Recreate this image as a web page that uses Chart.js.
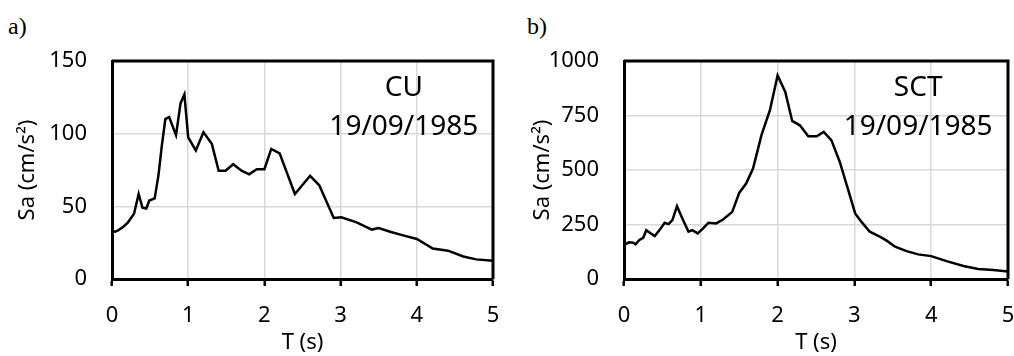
<!DOCTYPE html>
<html>
<head>
<meta charset="utf-8">
<script src="https://cdn.jsdelivr.net/npm/chart.js@4.4.1/dist/chart.umd.min.js"></script>
<style>
  body { margin: 0; background: #fff; }
  #wrap { position: relative; width: 1014px; height: 356px; }
  canvas { position: absolute; top: 0; }
  .tag { position: absolute; font-family: 'Liberation Serif', 'Times New Roman', serif; font-size: 24px; color: #000; }
</style>
</head>
<body>
<div id="wrap">
  <div class="tag" style="left:8px; top:13px;">a)</div>
  <div class="tag" style="left:527px; top:13px;">b)</div>
  <canvas id="chartA" width="507" height="356" style="left:0px;"></canvas>
  <canvas id="chartB" width="507" height="356" style="left:507px;"></canvas>
</div>
<script>
// Response spectra, 19/09/1985 - CU and SCT stations

// Panel a) CU
const tA = [0, 0.04, 0.08, 0.15, 0.21, 0.29, 0.35, 0.40, 0.45, 0.49, 0.56, 0.61, 0.65, 0.70, 0.75,
  0.84, 0.90, 0.95, 1.00, 1.10, 1.20, 1.31, 1.40, 1.49, 1.59, 1.70, 1.80, 1.90, 2.00, 2.09,
  2.20, 2.40, 2.60, 2.72, 2.91, 3.01, 3.21, 3.41, 3.50, 3.65, 3.82, 4.00, 4.21, 4.41, 4.61, 4.78, 5.00];
const saA = [33, 32.5, 33.5, 36, 39, 45, 58.5, 49, 48.5, 54, 55.5, 71.5, 90, 110, 111.5,
  99, 121, 127, 97.5, 88.5, 101, 93, 74.5, 74.5, 79, 74.5, 72, 75.5, 75.5, 89.5,
  86.5, 58.5, 71, 64.5, 42, 42.5, 39, 34, 35, 32.5, 30, 27.5, 21, 19.5, 15.5, 13.5, 12.5];

// Panel b) SCT
const tB = [0, 0.065, 0.12, 0.15, 0.20, 0.25, 0.29, 0.35, 0.40, 0.47, 0.53, 0.58, 0.63, 0.69, 0.76,
  0.84, 0.89, 0.96, 1.03, 1.10, 1.20, 1.29, 1.41, 1.50, 1.59, 1.68, 1.73, 1.79, 1.90, 2.00,
  2.10, 2.19, 2.29, 2.40, 2.51, 2.60, 2.70, 2.81, 2.92, 3.01, 3.09, 3.20, 3.33, 3.42, 3.53,
  3.68, 3.83, 4.00, 4.20, 4.42, 4.61, 4.81, 5.00];
const saB = [156, 168, 166, 159, 179, 189, 224, 209, 197, 228, 258, 252, 270, 334, 278,
  217, 224, 209, 232, 258, 255, 273, 308, 395, 438, 507, 576, 660, 774, 934,
  858, 725, 705, 655, 655, 675, 637, 537, 408, 301, 263, 217, 194, 176, 148,
  128, 113, 105, 82, 60, 46, 41, 34];

const xTicks = [0, 1, 2, 3, 4, 5];
const yTicksA = [0, 50, 100, 150];
const yTicksB = [0, 250, 500, 750, 1000];
const notesA = ['CU', '19/09/1985'];
const notesB = ['SCT', '19/09/1985'];

const FONT = "'Noto Sans', 'Open Sans', sans-serif";

// frame on top/right + station label
const framePlugin = {
  id: 'frame',
  afterDraw(chart, args, opts) {
    const a = chart.chartArea;
    const ctx = chart.ctx;
    ctx.save();
    ctx.strokeStyle = '#000';
    ctx.lineWidth = 3;
    ctx.beginPath();
    ctx.moveTo(a.left, a.top);
    ctx.lineTo(a.right, a.top);
    ctx.lineTo(a.right, a.bottom);
    ctx.stroke();
    ctx.fillStyle = '#000';
    ctx.font = '28px ' + FONT;
    ctx.textAlign = 'center';
    ctx.textBaseline = 'middle';
    const cx = a.left + (a.right - a.left) * 0.766;
    ctx.fillText(opts.lines[0], cx, a.top + 27);
    ctx.fillText(opts.lines[1], cx, a.top + 66);
    ctx.restore();
  }
};

function makeChart(id, t, sa, yTicks, notes, yAxisW, padRight, yTitlePad) {
  const pts = t.map((v, i) => ({ x: v, y: sa[i] }));
  return new Chart(document.getElementById(id), {
    type: 'line',
    data: {
      datasets: [{
        data: pts,
        borderColor: '#000',
        borderWidth: 2.5,
        pointRadius: 0,
        tension: 0,
        fill: false
      }]
    },
    options: {
      responsive: false,
      animation: false,
      layout: { padding: { top: 61, right: padRight, left: 0, bottom: 0 } },
      plugins: {
        legend: { display: false },
        tooltip: { enabled: false },
        frame: { lines: notes }
      },
      scales: {
        x: {
          type: 'linear',
          min: xTicks[0],
          max: xTicks[xTicks.length - 1],
          afterBuildTicks: s => { s.ticks = xTicks.map(v => ({ value: v })); },
          afterFit: s => { s.height = 77; s.paddingLeft = 0; s.paddingRight = 0; },
          grid: { color: '#d9d9d9', lineWidth: 1.5, tickColor: '#000', tickLength: 7, tickWidth: 2.5 },
          border: { color: '#000', width: 3 },
          ticks: { color: '#000', font: { family: FONT, size: 22 }, padding: 17, maxRotation: 0, autoSkip: false,
            callback: v => String(v) },
          title: { display: true, text: 'T (s)', color: '#000', font: { family: FONT, size: 22 }, padding: { top: 0, bottom: 0 } }
        },
        y: {
          min: yTicks[0],
          max: yTicks[yTicks.length - 1],
          afterBuildTicks: s => { s.ticks = yTicks.map(v => ({ value: v })); },
          afterFit: s => { s.width = yAxisW; s.paddingTop = 0; s.paddingBottom = 0; },
          grid: { color: '#d9d9d9', lineWidth: 1.5, drawTicks: false },
          border: { color: '#000', width: 3 },
          ticks: { color: '#000', font: { family: FONT, size: 22 }, padding: 25, callback: v => String(v) },
          title: { display: true, text: 'Sa (cm/s²)', color: '#000', font: { family: FONT, size: 22 }, padding: { top: yTitlePad, bottom: 0 } }
        }
      }
    },
    plugins: [framePlugin]
  });
}

makeChart('chartA', tA, saA, yTicksA, notesA, 112, 14, 15);
makeChart('chartB', tB, saB, yTicksB, notesB, 117, 6, 23);
</script>
</body>
</html>
